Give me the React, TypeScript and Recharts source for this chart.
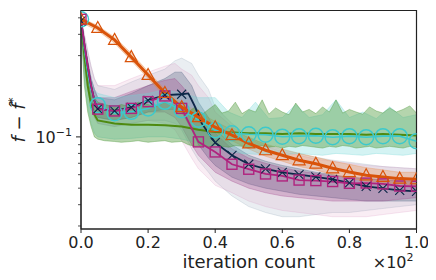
import React from 'react';
import {
  Area,
  ComposedChart,
  Line,
  ReferenceArea,
  XAxis,
  YAxis,
} from 'recharts';

// ---- data ----
const Y_MIN = 0.0288;
const Y_MAX = 0.552;
const xTicks = [0, 20, 40, 60, 80, 100];
const yTicks = [0.03, 0.04, 0.05, 0.06, 0.07, 0.08, 0.09, 0.1, 0.2, 0.3, 0.4, 0.5];

// mean curves
const earlyIters = [0, 1, 2, 3, 4, 5, 10, 15, 20, 25, 30, 35, 40, 45, 50, 55, 60, 65, 70, 75, 80, 85, 90, 95, 100];
const orangeIters = [0, 5, 10, 15, 20, 25, 30, 35, 40, 45, 50, 55, 60, 65, 70, 75, 80, 85, 90, 95, 100];
const orangeMean = [0.49, 0.436, 0.371, 0.294, 0.231, 0.181, 0.1495, 0.1306, 0.114, 0.1023, 0.0915, 0.0835, 0.0781, 0.0729, 0.0696, 0.0654, 0.0622, 0.0595, 0.0582, 0.0569, 0.0564];
const magentaMean = [0.49, 0.35, 0.26, 0.2, 0.163, 0.1455, 0.142, 0.147, 0.161, 0.174, 0.147, 0.0935, 0.0816, 0.0691, 0.0646, 0.0606, 0.059, 0.0558, 0.0554, 0.0547, 0.0534, 0.0536, 0.053, 0.0515, 0.0513];
const navyIters = [0, 1, 2, 3, 4, 5, 10, 15, 20, 25, 30, 32, 34, 36, 40, 45, 50, 55, 60, 65, 70, 75, 80, 85, 90, 95, 100];
const navyMean = [0.48, 0.35, 0.26, 0.2, 0.163, 0.146, 0.142, 0.149, 0.164, 0.176, 0.178, 0.18, 0.15, 0.12, 0.0925, 0.078, 0.0691, 0.065, 0.062, 0.06, 0.0583, 0.0564, 0.0538, 0.0513, 0.0499, 0.0486, 0.0479];
const cyanMean = [0.49, 0.33, 0.24, 0.19, 0.165, 0.1536, 0.1378, 0.1403, 0.1469, 0.1606, 0.1436, 0.1262, 0.1095, 0.1051, 0.1037, 0.103, 0.1003, 0.101, 0.1016, 0.0996, 0.101, 0.0996, 0.101, 0.101, 0.0943];
const greenMean = [0.48, 0.3, 0.2, 0.155, 0.135, 0.125, 0.12, 0.118, 0.118, 0.117, 0.115, 0.11, 0.107, 0.106, 0.105, 0.105, 0.104, 0.105, 0.104, 0.104, 0.104, 0.103, 0.104, 0.103, 0.102];

// spread of the individual runs: outer envelope + dense core
const runIters = [0, 1, 2, 3, 4, 5, 10, 15, 20, 25, 28, 30, 33, 35, 38, 40, 45, 50, 55, 60, 65, 70, 75, 80, 85, 90, 95, 100];
const pinkLo = [0.45, 0.25, 0.19, 0.15, 0.13, 0.12, 0.115, 0.12, 0.125, 0.12, 0.11, 0.095, 0.075, 0.065, 0.057, 0.052, 0.047, 0.042, 0.039, 0.037, 0.036, 0.035, 0.034, 0.034, 0.034, 0.035, 0.036, 0.037];
const pinkHi = [0.5, 0.4, 0.32, 0.26, 0.22, 0.2, 0.2, 0.22, 0.24, 0.26, 0.27, 0.25, 0.23, 0.2, 0.17, 0.14, 0.115, 0.098, 0.088, 0.082, 0.078, 0.074, 0.072, 0.07, 0.068, 0.067, 0.066, 0.065];
const pinkCoreLo = [0.46, 0.3, 0.22, 0.17, 0.14, 0.13, 0.125, 0.13, 0.14, 0.14, 0.13, 0.115, 0.09, 0.078, 0.068, 0.062, 0.055, 0.05, 0.047, 0.045, 0.044, 0.043, 0.042, 0.042, 0.042, 0.042, 0.043, 0.044];
const pinkCoreHi = [0.5, 0.37, 0.28, 0.22, 0.19, 0.17, 0.17, 0.185, 0.2, 0.215, 0.22, 0.2, 0.17, 0.14, 0.12, 0.105, 0.085, 0.075, 0.07, 0.066, 0.063, 0.061, 0.059, 0.058, 0.057, 0.056, 0.056, 0.056];
const slateLo = [0.45, 0.25, 0.19, 0.15, 0.13, 0.12, 0.115, 0.12, 0.125, 0.125, 0.12, 0.11, 0.085, 0.073, 0.062, 0.055, 0.045, 0.039, 0.036, 0.034, 0.034, 0.035, 0.036, 0.036, 0.037, 0.038, 0.039, 0.04];
const slateHi = [0.5, 0.4, 0.32, 0.26, 0.22, 0.2, 0.19, 0.21, 0.23, 0.25, 0.28, 0.29, 0.27, 0.23, 0.19, 0.15, 0.12, 0.1, 0.09, 0.084, 0.08, 0.076, 0.073, 0.071, 0.069, 0.067, 0.066, 0.065];
const slateCoreLo = [0.46, 0.3, 0.22, 0.17, 0.14, 0.13, 0.125, 0.13, 0.14, 0.145, 0.145, 0.14, 0.11, 0.09, 0.075, 0.068, 0.058, 0.053, 0.05, 0.048, 0.046, 0.045, 0.044, 0.043, 0.042, 0.042, 0.042, 0.042];
const slateCoreHi = [0.5, 0.37, 0.28, 0.22, 0.19, 0.17, 0.165, 0.18, 0.2, 0.22, 0.24, 0.24, 0.2, 0.16, 0.13, 0.11, 0.09, 0.078, 0.072, 0.068, 0.065, 0.062, 0.06, 0.058, 0.057, 0.056, 0.055, 0.055];

const orangeLo = [0.47, 0.42, 0.355, 0.28, 0.22, 0.172, 0.141, 0.122, 0.106, 0.095, 0.085, 0.077, 0.072, 0.067, 0.064, 0.06, 0.057, 0.055, 0.054, 0.053, 0.052];
const orangeHi = [0.5, 0.45, 0.385, 0.31, 0.242, 0.19, 0.158, 0.14, 0.123, 0.11, 0.099, 0.091, 0.085, 0.08, 0.076, 0.072, 0.069, 0.066, 0.064, 0.062, 0.062];

const greenIters = [0, 1, 2, 3, 4, 5, 7, 10, 12, 15, 17, 20, 22, 25, 27, 30,
  32, 34, 36, 38, 40, 42, 44, 46, 48, 50, 52, 54, 56, 58, 60, 62, 64, 66, 68, 70,
  72, 74, 76, 78, 80, 82, 84, 86, 88, 90, 92, 94, 96, 98, 100];
const greenLo = [0.45, 0.2, 0.14, 0.115, 0.1, 0.097, 0.095, 0.094, 0.093, 0.094, 0.095, 0.093, 0.094, 0.095, 0.093, 0.094,
  0.09, 0.088, 0.089, 0.087, 0.09, 0.088, 0.087, 0.089, 0.088, 0.086, 0.088, 0.089, 0.087, 0.088, 0.086, 0.088, 0.087, 0.089, 0.088, 0.087,
  0.086, 0.088, 0.087, 0.089, 0.088, 0.086, 0.087, 0.088, 0.086, 0.087, 0.088, 0.087, 0.086, 0.088, 0.087];
const greenHi = [0.5, 0.33, 0.25, 0.2, 0.17, 0.16, 0.155, 0.15, 0.155, 0.15, 0.16, 0.155, 0.15, 0.16, 0.155, 0.15,
  0.14, 0.15, 0.135, 0.145, 0.155, 0.138, 0.142, 0.16, 0.137, 0.145, 0.14, 0.165, 0.136, 0.148, 0.14, 0.135, 0.158, 0.14, 0.145, 0.137,
  0.15, 0.14, 0.165, 0.138, 0.145, 0.14, 0.136, 0.15, 0.142, 0.138, 0.148, 0.14, 0.145, 0.152, 0.138];

const cyanIters = [0, 1, 2, 3, 4, 5, 10, 15, 20, 25, 30, 35, 40, 44, 48, 52, 56, 60, 64, 68, 72, 76, 80, 84, 88, 92, 96, 100];
const cyanLo = [0.45, 0.22, 0.15, 0.12, 0.105, 0.1, 0.097, 0.098, 0.1, 0.1, 0.097, 0.092, 0.088,
  0.082, 0.08, 0.079, 0.08, 0.078, 0.08, 0.079, 0.078, 0.08, 0.079, 0.078, 0.08, 0.079, 0.078, 0.08];
const cyanHi = [0.5, 0.36, 0.27, 0.22, 0.19, 0.18, 0.17, 0.175, 0.18, 0.19, 0.18, 0.17, 0.17,
  0.14, 0.13, 0.16, 0.128, 0.13, 0.155, 0.13, 0.135, 0.165, 0.13, 0.14, 0.128, 0.15, 0.13, 0.135];

// ---- colours ----
const ORANGE = '#d9530a';
const MAGENTA = '#b0237e';
const NAVY = '#0c2748';
const CYAN = '#3cc9cc';
const GREEN = '#4e8a10';

const FONT = 'DejaVu Sans, sans-serif';

const band = (iters: number[], lo: number[], hi: number[]) =>
  iters.map((it, i) => ({ it, r: [lo[i], hi[i]] }));
const curve = (iters: number[], v: number[]) => iters.map((it, i) => ({ it, v: v[i] }));

type Shape = 'circle' | 'square' | 'triangle' | 'cross';

const marker = (shape: Shape, color: string) => (p: any) => {
  const { cx, cy, payload, index } = p;
  if (payload.it % 5 !== 0 || cx == null || cy == null) return <g key={`m${index}`} />;
  if (shape === 'circle')
    return <circle key={`m${index}`} cx={cx} cy={cy} r={7.5} fill="none" stroke={color} strokeWidth={1.5} />;
  if (shape === 'square')
    return <rect key={`m${index}`} x={cx - 5} y={cy - 5} width={10} height={10} fill="none" stroke={color} strokeWidth={1.4} />;
  if (shape === 'triangle')
    return (
      <path key={`m${index}`} d={`M${cx},${cy - 6.5}L${cx + 6},${cy + 4.5}L${cx - 6},${cy + 4.5}Z`} fill="none" stroke={color} strokeWidth={1.2} />
    );
  return (
    <path key={`m${index}`} d={`M${cx - 4.5},${cy - 4.5}L${cx + 4.5},${cy + 4.5}M${cx - 4.5},${cy + 4.5}L${cx + 4.5},${cy - 4.5}`} stroke={color} strokeWidth={1.1} />
  );
};

function YTick(props: any) {
  const { x, y, payload } = props;
  const major = payload.value === 0.1;
  return (
    <g>
      <line x1={x - (major ? 5 : 3)} x2={x} y1={y} y2={y} stroke="#222" strokeWidth={major ? 1 : 0.8} />
      {major && (
        <text x={x - 9} y={y + 6} textAnchor="end" fontFamily={FONT} fontSize={16} fill="#222">
          10<tspan fontSize={11} dy={-7}>−1</tspan>
        </text>
      )}
    </g>
  );
}

const spread = (data: any[], color: string, op: number) => (
  <Area data={data} dataKey="r" type="linear" stroke={color} strokeOpacity={op + 0.1} strokeWidth={0.8} fill={color} fillOpacity={op} isAnimationActive={false} />
);

export default function App() {
  return (
    <div style={{ position: 'relative', width: 428, height: 272 }}>
      <ComposedChart width={428} height={272} margin={{ top: 2.5, right: 19.5, bottom: 0, left: 0 }}>
        <XAxis
          type="number"
          dataKey="it"
          domain={[0, 100]}
          ticks={xTicks}
          tickFormatter={(v: number) => (v / 100).toFixed(1)}
          height={51}
          tickSize={4}
          tickMargin={4}
          stroke="#222"
          tick={{ fill: '#222', fontSize: 16, fontFamily: FONT }}
          allowDataOverflow
        />
        <YAxis
          type="number"
          scale="log"
          domain={[Y_MIN, Y_MAX]}
          ticks={yTicks}
          allowDataOverflow
          width={73}
          tickSize={0}
          tickMargin={0}
          tickLine={false}
          stroke="#222"
          tick={<YTick />}
          interval={0}
        />

        {spread(band(runIters, slateLo, slateHi), '#6d8aa0', 0.14)}
        {spread(band(runIters, pinkLo, pinkHi), '#d77fb4', 0.14)}
        {spread(band(runIters, slateCoreLo, slateCoreHi), '#3a5474', 0.27)}
        {spread(band(runIters, pinkCoreLo, pinkCoreHi), '#9e3a86', 0.27)}
        {spread(band(orangeIters, orangeLo, orangeHi), '#e8873f', 0.3)}
        {spread(band(cyanIters, cyanLo, cyanHi), '#72d6d6', 0.3)}
        {spread(band(greenIters, greenLo, greenHi), '#4f9a3c', 0.42)}

        <Line data={curve(earlyIters, greenMean)} dataKey="v" type="linear" stroke={GREEN} strokeWidth={2} dot={false} isAnimationActive={false} />
        <Line data={curve(earlyIters, cyanMean)} dataKey="v" type="linear" stroke={CYAN} strokeWidth={1.6} dot={marker('circle', CYAN)} isAnimationActive={false} />
        <Line data={curve(navyIters, navyMean)} dataKey="v" type="linear" stroke={NAVY} strokeWidth={1.8} dot={marker('cross', NAVY)} isAnimationActive={false} />
        <Line data={curve(earlyIters, magentaMean)} dataKey="v" type="linear" stroke={MAGENTA} strokeWidth={1.8} dot={marker('square', MAGENTA)} isAnimationActive={false} />
        <Line data={curve(orangeIters, orangeMean)} dataKey="v" type="linear" stroke={ORANGE} strokeWidth={3} dot={marker('triangle', ORANGE)} isAnimationActive={false} />

        <ReferenceArea x1={0} x2={100} y1={Y_MIN} y2={Y_MAX} fill="none" stroke="#222" strokeWidth={1.2} ifOverflow="visible" />
      </ComposedChart>

      <svg width={436} height={280} style={{ position: 'absolute', left: -8, top: -8, pointerEvents: 'none', overflow: 'visible' }}>
        <text x={248.7} y={268} textAnchor="middle" fontFamily={FONT} fontSize={18} fill="#222">
          iteration count
        </text>
        <text x={413.5} y={267.5} textAnchor="end" fontFamily={FONT} fontSize={16} fill="#222">
          ×10<tspan fontSize={11} dy={-6.5}>2</tspan>
        </text>
        <text transform="translate(25,120) rotate(-90)" textAnchor="middle" fontFamily={FONT} fontSize={18} fill="#222">
          <tspan fontStyle="italic">f</tspan>
          <tspan> − </tspan>
          <tspan fontStyle="italic">f̂</tspan>
          <tspan fontSize={12} dy={-8}>*</tspan>
        </text>
      </svg>
    </div>
  );
}
